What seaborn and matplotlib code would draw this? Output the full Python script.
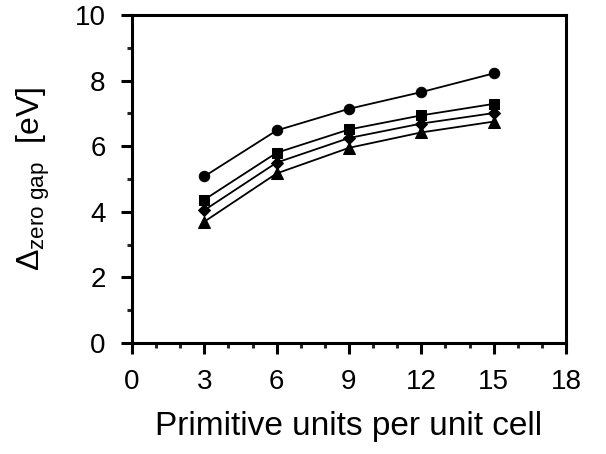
import matplotlib
matplotlib.use("Agg")
import matplotlib.pyplot as plt
import seaborn as sns
import pandas as pd
from matplotlib.ticker import MultipleLocator

units = [3, 6, 9, 12, 15]
circle_vals = [5.08, 6.48, 7.14, 7.65, 8.22]
square_vals = [4.37, 5.80, 6.51, 6.94, 7.29]
diamond_vals = [4.05, 5.50, 6.25, 6.69, 7.01]
triangle_vals = [3.70, 5.17, 5.95, 6.42, 6.75]

series = {"circle": circle_vals, "square": square_vals,
          "diamond": diamond_vals, "triangle": triangle_vals}
rows = []
for name, vals in series.items():
    for u, v in zip(units, vals):
        rows.append({"units": u, "gap": v, "series": name})
df = pd.DataFrame(rows)

sns.set_theme(style="ticks")
plt.rcParams['font.family'] = ['Liberation Sans', 'DejaVu Sans']
plt.rcParams['mathtext.fontset'] = 'custom'
plt.rcParams['mathtext.rm'] = 'Liberation Sans'
plt.rcParams['mathtext.it'] = 'Liberation Sans'
plt.rcParams['axes.labelcolor'] = 'black'
plt.rcParams['text.color'] = 'black'

fig = plt.figure(figsize=(6.06, 4.54), dpi=100)
ax = fig.add_axes([132/606, 1-343/454, (566-132)/606, (343-15)/454])

markers = {"circle": "o", "square": "s", "diamond": "D", "triangle": "^"}
sizes = {"circle": 7.5, "square": 6.5, "diamond": 6.5, "triangle": 8.5}
for name in series:
    sub = df[df.series == name]
    sns.lineplot(data=sub, x="units", y="gap", ax=ax, color="black",
                 marker=markers[name], markersize=sizes[name],
                 markeredgecolor="black", markerfacecolor="black",
                 linewidth=1.3, legend=False)

ax.set_xlim(0, 18)
ax.set_ylim(0, 10)
ax.xaxis.set_major_locator(MultipleLocator(3))
ax.xaxis.set_minor_locator(MultipleLocator(1))
ax.yaxis.set_major_locator(MultipleLocator(2))
ax.yaxis.set_minor_locator(MultipleLocator(1))
for s in ax.spines.values():
    s.set_linewidth(2.2)
    s.set_color("black")
    s.set_visible(True)
ax.tick_params(which="major", direction="out", length=8, width=2.2,
               labelsize=20, colors="black", pad=11)
ax.tick_params(which="minor", direction="out", length=3.5, width=2.2)
ax.set_xlabel("Primitive units per unit cell", fontsize=24, labelpad=11,
              color="black")
ax.set_ylabel(r"$\Delta_{\mathrm{zero\ gap}}$  [eV]", fontsize=23, labelpad=16,
              color="black")

fig.savefig("out.png", dpi=100)
